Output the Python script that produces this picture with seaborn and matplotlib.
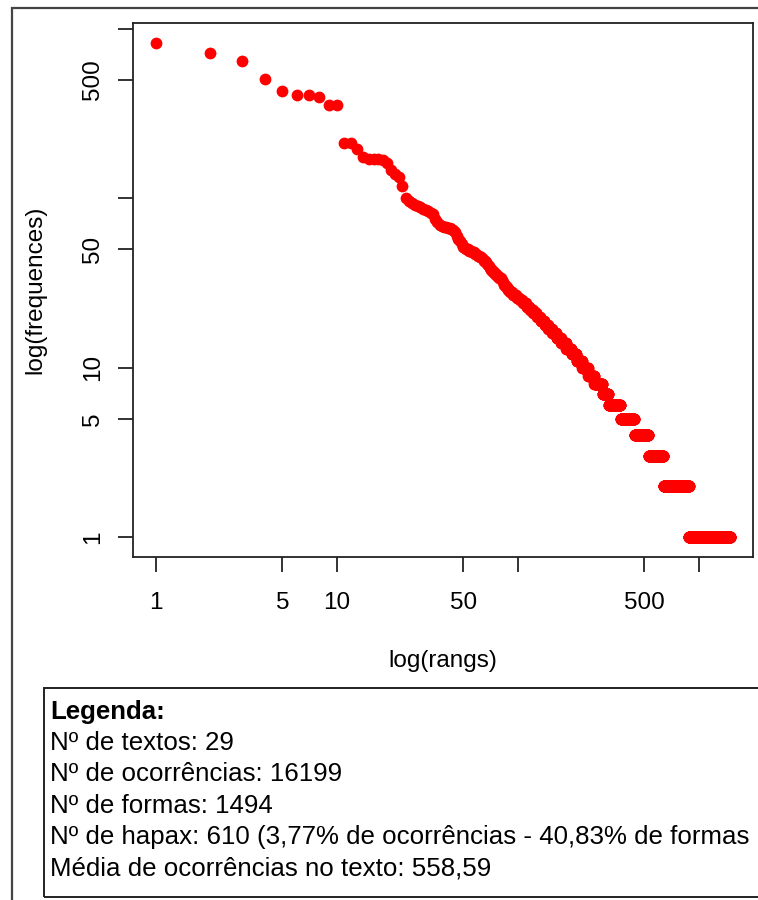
import numpy as np
import pandas as pd
import seaborn as sns
import matplotlib.pyplot as plt
from matplotlib.patches import Rectangle
from matplotlib.ticker import NullLocator, FixedLocator, FixedFormatter

# --------------------------------------------------------------------------- #
# Data: frequencies of the most frequent forms (one value per rank) ...
top_freqs = [830, 726, 648, 510, 432, 409, 409, 399, 357, 357,
             213, 213, 197, 176, 171, 170, 170, 168, 161, 148,
             140, 133, 118, 100, 97, 94, 91, 90, 89, 87,
             85, 84, 82, 81, 76, 73, 70, 69, 68, 68,
             67, 67, 66, 65, 63, 60, 58, 56, 54, 52,
             51, 50, 50, 49, 49, 48, 48]
# ... and for the rest, frequency value and number of forms having it
tail_freqs = [47, 46, 45, 44, 43, 42, 41, 40, 39, 38, 37, 36, 35, 34, 33, 32,
              31, 30, 29, 28, 27, 26, 25, 24, 23, 22, 21, 20, 19, 18, 17, 16,
              15, 14, 13, 12, 11, 10, 9, 8, 7, 6, 5, 4, 3, 2, 1]
tail_counts = [2, 2, 2, 1, 2, 1, 1, 1, 1, 2, 2, 2, 2, 3, 1, 1,
               2, 2, 3, 3, 5, 4, 4, 5, 5, 5, 6, 6, 7, 7, 7, 9,
               10, 12, 13, 13, 16, 18, 20, 29, 23, 53, 72, 87, 111, 244, 610]

tick_vals = [1, 5, 10, 50, 100, 500, 1000]
x_tick_labels = ['1', '5', '10', '50', '', '500', '']
y_tick_labels = ['1', '5', '10', '50', '', '500', '']

legend_title = "Legenda:"
legend_lines = ["Nº de textos: 29",
                "Nº de ocorrências: 16199",
                "Nº de formas: 1494",
                "Nº de hapax: 610 (3,77% de ocorrências - 40,83% de formas",
                "Média de ocorrências no texto: 558,59"]

freqs = np.concatenate([top_freqs, np.repeat(tail_freqs, tail_counts)])
zipf = pd.DataFrame({'rang': np.arange(1, len(freqs) + 1), 'freq': freqs})

# --------------------------------------------------------------------------- #
sns.set_style("white")
plt.rcParams['font.family'] = ['Liberation Sans', 'DejaVu Sans']
plt.rcParams['text.color'] = 'black'
fs = 17.5

W, H = 758, 900
fig = plt.figure(figsize=(W / 100, H / 100), dpi=100)
ax = fig.add_axes([133 / W, 1 - 557 / H, 620 / W, 534 / H])

sns.scatterplot(data=zipf, x='rang', y='freq', color='#FF0000', s=72,
                linewidth=0, ax=ax, legend=False)
ax.set_xscale('log')
ax.set_yscale('log')


# R style limits: data range extended by 4% on the log scale
def r_lims(v):
    lo, hi = np.log10(v.min()), np.log10(v.max())
    pad = 0.04 * (hi - lo)
    return 10 ** (lo - pad), 10 ** (hi + pad)


ax.set_xlim(*r_lims(zipf['rang']))
ax.set_ylim(*r_lims(zipf['freq']))

ax.xaxis.set_major_locator(FixedLocator(tick_vals))
ax.xaxis.set_major_formatter(FixedFormatter(x_tick_labels))
ax.yaxis.set_major_locator(FixedLocator(tick_vals))
ax.yaxis.set_major_formatter(FixedFormatter(y_tick_labels))
ax.xaxis.set_minor_locator(NullLocator())
ax.yaxis.set_minor_locator(NullLocator())
ax.tick_params(axis='both', which='major', direction='out', length=11, width=1.3,
               colors='#222222', labelsize=fs, labelcolor='black', left=True, bottom=True)
ax.tick_params(axis='x', pad=14)
ax.tick_params(axis='y', pad=10)
for lbl in ax.get_yticklabels():
    lbl.set_rotation(90)
    lbl.set_va('center')

for sp in ax.spines.values():
    sp.set_color('#222222')
    sp.set_linewidth(1.3)

ax.set_xlabel('log(rangs)', fontsize=fs, va='center', color='black')
ax.xaxis.set_label_coords(0.5, -(661 - 557) / 534)
ax.set_ylabel('log(frequences)', fontsize=fs, va='center', color='black')
ax.yaxis.set_label_coords((35 - 133) / 620, 0.5)

# outer frame of the window
fig.patches.append(Rectangle((12 / W, -0.1), 2, 1 - 8 / H + 0.1, transform=fig.transFigure,
                             fill=False, edgecolor='#444444', linewidth=1.6))

# legend box
fig.patches.append(Rectangle((44 / W, 1 - 897 / H), 2, (897 - 688) / H,
                             transform=fig.transFigure, fill=False,
                             edgecolor='#222222', linewidth=1.4))
lfs = 18.6
fig.text(50 / W, 1 - 712 / H, legend_title, fontsize=lfs, fontweight='bold', va='center')
for i, line in enumerate(legend_lines):
    fig.text(50 / W, 1 - (743 + 31.3 * i) / H, line, fontsize=lfs, va='center')

plt.savefig("out.png", dpi=100)
